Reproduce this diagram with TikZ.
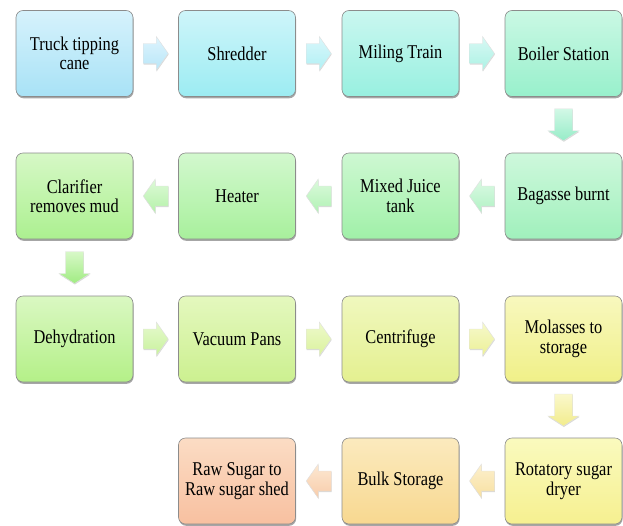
\documentclass[tikz,border=0pt]{standalone}
\usepackage{fontspec}
\newfontfamily\boxfont{Liberation Serif}[FakeStretch=0.84]
\usetikzlibrary{calc,shadows}
\tikzset{
  box/.style={draw=black!45, line width=0.6pt, rounded corners=7pt,
    minimum width=117pt, minimum height=86pt, inner sep=2pt,
    align=center,
    font=\boxfont\fontsize{19.5}{19.5}\selectfont, text=black,
    drop shadow={shadow xshift=0.6pt, shadow yshift=-1.8pt, fill=black, opacity=0.35}},
  barrow/.style={draw=black!12, line width=0.4pt,
    drop shadow={shadow xshift=0.4pt, shadow yshift=-1pt, fill=black, opacity=0.15}}
}
\newcommand\harr[4]{% midpoint, direction sign, top colour, bottom colour
  \path[barrow, top color=#3, bottom color=#4]
    ([shift={({-12.5*(#2)},-10)}]#1) -- ([shift={({0.5*(#2)},-10)}]#1)
    -- ([shift={({0.5*(#2)},-17)}]#1) -- ([shift={({12.5*(#2)},0)}]#1)
    -- ([shift={({0.5*(#2)},17)}]#1) -- ([shift={({0.5*(#2)},10)}]#1)
    -- ([shift={({-12.5*(#2)},10)}]#1) -- cycle;}
\newcommand\varr[3]{% midpoint, top colour, bottom colour (points down)
  \path[barrow, top color=#2, bottom color=#3]
    ([shift={(-9,-16)}]#1) -- ([shift={(9,-16)}]#1) -- ([shift={(9,6)}]#1)
    -- ([shift={(15.5,6)}]#1) -- ([shift={(0,16)}]#1) -- ([shift={(-15.5,6)}]#1)
    -- ([shift={(-9,6)}]#1) -- cycle;}
\begin{document}
\begin{tikzpicture}[x=1pt,y=-1pt]
\fill[white] (0,0) rectangle (623,525);
\useasboundingbox (0,0) rectangle (623,525);
% row 1
\node[box, top color={rgb,255:red,214;green,242;blue,252}, bottom color={rgb,255:red,168;green,226;blue,246}] (b1) at (74.5,53.5) {Truck tipping\\cane};
\node[box, top color={rgb,255:red,206;green,245;blue,250}, bottom color={rgb,255:red,156;green,236;blue,242}] (b2) at (237,53.5) {Shredder};
\node[box, top color={rgb,255:red,202;green,247;blue,240}, bottom color={rgb,255:red,152;green,240;blue,224}] (b3) at (400.5,53.5) {Miling Train};
\node[box, top color={rgb,255:red,202;green,248;blue,228}, bottom color={rgb,255:red,152;green,240;blue,204}] (b4) at (563.5,53.5) {Boiler Station};
% row 2
\node[box, top color={rgb,255:red,206;green,248;blue,220}, bottom color={rgb,255:red,160;green,240;blue,188}] (b5) at (563.5,196) {Bagasse burnt};
\node[box, top color={rgb,255:red,206;green,248;blue,210}, bottom color={rgb,255:red,160;green,240;blue,168}] (b6) at (400.5,196) {Mixed Juice\\tank};
\node[box, top color={rgb,255:red,210;green,248;blue,206}, bottom color={rgb,255:red,168;green,240;blue,156}] (b7) at (237,196) {Heater};
\node[box, top color={rgb,255:red,214;green,248;blue,198}, bottom color={rgb,255:red,172;green,240;blue,144}] (b8) at (74.5,196) {Clarifier\\removes mud};
% row 3
\node[box, top color={rgb,255:red,218;green,248;blue,194}, bottom color={rgb,255:red,180;green,240;blue,136}] (b9) at (74.5,339) {Dehydration};
\node[box, top color={rgb,255:red,228;green,248;blue,190}, bottom color={rgb,255:red,204;green,240;blue,144}] (b10) at (237,339) {Vacuum Pans};
\node[box, top color={rgb,255:red,240;green,248;blue,190}, bottom color={rgb,255:red,228;green,240;blue,144}] (b11) at (400.5,339) {Centrifuge};
\node[box, top color={rgb,255:red,248;green,248;blue,190}, bottom color={rgb,255:red,240;green,240;blue,136}] (b12) at (563.5,339) {Molasses to\\storage};
% row 4
\node[box, top color={rgb,255:red,250;green,250;blue,190}, bottom color={rgb,255:red,246;green,240;blue,144}] (b13) at (563.5,481) {Rotatory sugar\\dryer};
\node[box, top color={rgb,255:red,251;green,234;blue,190}, bottom color={rgb,255:red,248;green,216;blue,144}] (b14) at (400.5,481) {Bulk Storage};
\node[box, top color={rgb,255:red,251;green,220;blue,196}, bottom color={rgb,255:red,248;green,192;blue,160}] (b15) at (237,481) {Raw Sugar to\\Raw sugar shed};
% connector midpoints
\coordinate (m12) at ($(b1.east)!0.5!(b2.west)$);
\coordinate (m23) at ($(b2.east)!0.5!(b3.west)$);
\coordinate (m34) at ($(b3.east)!0.5!(b4.west)$);
\coordinate (m45) at ($(b4.south)!0.5!(b5.north)$);
\coordinate (m56) at ($(b5.west)!0.5!(b6.east)$);
\coordinate (m67) at ($(b6.west)!0.5!(b7.east)$);
\coordinate (m78) at ($(b7.west)!0.5!(b8.east)$);
\coordinate (m89) at ($(b8.south)!0.5!(b9.north)$);
\coordinate (m910) at ($(b9.east)!0.5!(b10.west)$);
\coordinate (m1011) at ($(b10.east)!0.5!(b11.west)$);
\coordinate (m1112) at ($(b11.east)!0.5!(b12.west)$);
\coordinate (m1213) at ($(b12.south)!0.5!(b13.north)$);
\coordinate (m1314) at ($(b13.west)!0.5!(b14.east)$);
\coordinate (m1415) at ($(b14.west)!0.5!(b15.east)$);
% arrows
\harr{m12}{1}{{rgb,255:red,222;green,244;blue,253}}{{rgb,255:red,184;green,230;blue,248}}
\harr{m23}{1}{{rgb,255:red,218;green,247;blue,251}}{{rgb,255:red,176;green,240;blue,244}}
\harr{m34}{1}{{rgb,255:red,216;green,248;blue,244}}{{rgb,255:red,172;green,242;blue,228}}
\varr{m45}{{rgb,255:red,210;green,248;blue,230}}{{rgb,255:red,150;green,236;blue,200}}
\harr{m56}{-1}{{rgb,255:red,220;green,249;blue,228}}{{rgb,255:red,176;green,242;blue,196}}
\harr{m67}{-1}{{rgb,255:red,220;green,249;blue,220}}{{rgb,255:red,176;green,242;blue,180}}
\harr{m78}{-1}{{rgb,255:red,222;green,249;blue,216}}{{rgb,255:red,180;green,242;blue,168}}
\varr{m89}{{rgb,255:red,216;green,248;blue,200}}{{rgb,255:red,160;green,236;blue,130}}
\harr{m910}{1}{{rgb,255:red,230;green,249;blue,206}}{{rgb,255:red,200;green,242;blue,156}}
\harr{m1011}{1}{{rgb,255:red,238;green,249;blue,204}}{{rgb,255:red,218;green,242;blue,156}}
\harr{m1112}{1}{{rgb,255:red,246;green,249;blue,204}}{{rgb,255:red,236;green,240;blue,150}}
\varr{m1213}{{rgb,255:red,250;green,248;blue,204}}{{rgb,255:red,242;green,236;blue,140}}
\harr{m1314}{-1}{{rgb,255:red,252;green,240;blue,206}}{{rgb,255:red,248;green,224;blue,160}}
\harr{m1415}{-1}{{rgb,255:red,252;green,232;blue,210}}{{rgb,255:red,248;green,204;blue,170}}
\end{tikzpicture}
\end{document}
